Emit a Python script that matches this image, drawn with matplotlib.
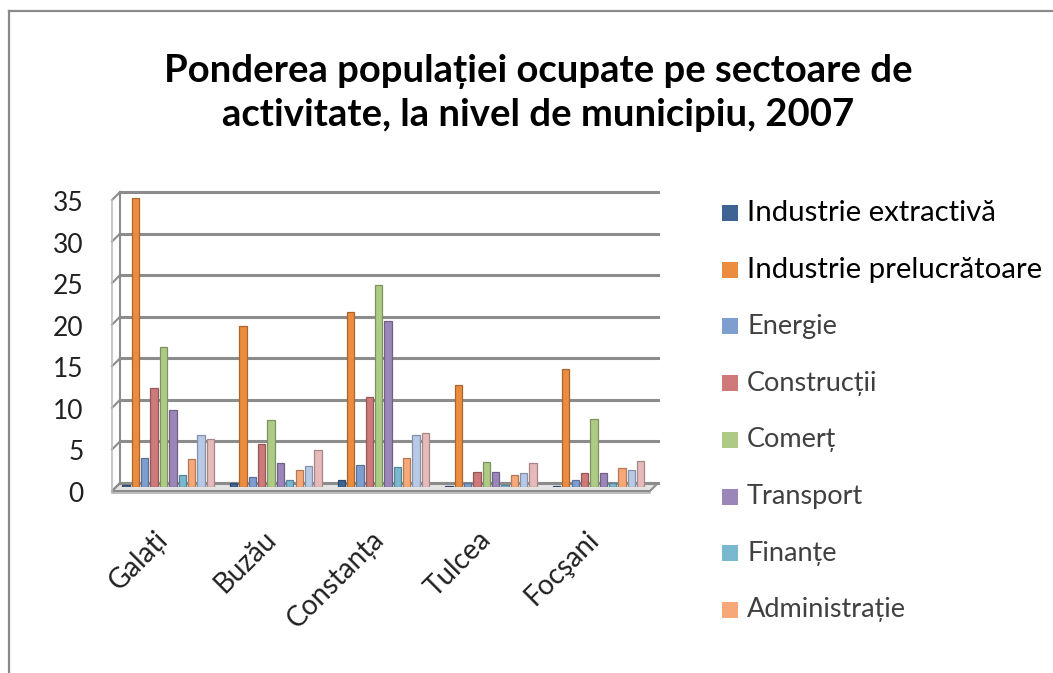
import matplotlib
matplotlib.use('Agg')
import matplotlib.pyplot as plt
from matplotlib.patches import Rectangle, Polygon
from matplotlib.lines import Line2D
import matplotlib.colors as mcolors
import numpy as np

plt.rcParams['font.family'] = ['Lato', 'DejaVu Sans']

# --- data ---
cities = ['Galați', 'Buzău', 'Constanța', 'Tulcea', 'Focşani']
sectors = ['Industrie extractivă', 'Industrie prelucrătoare', 'Energie',
           'Construcții', 'Comerț', 'Transport', 'Finanțe', 'Administrație',
           'Învățământ', 'Sănătate']
extractiva = [0.2, 0.5, 0.8, 0.1, 0.1]
prelucratoare = [34.8, 19.4, 21.1, 12.3, 14.2]
energie = [3.5, 1.2, 2.6, 0.5, 0.9]
constructii = [11.9, 5.2, 10.8, 1.8, 1.7]
comert = [16.8, 8.0, 24.3, 3.0, 8.2]
transport = [9.3, 2.9, 20.0, 1.8, 1.7]
finante = [1.4, 0.8, 2.4, 0.3, 0.5]
administratie = [3.4, 2.0, 3.5, 1.5, 2.3]
invatamant = [6.2, 2.5, 6.2, 1.7, 2.1]
sanatate = [5.8, 4.4, 6.5, 2.9, 3.1]
series = [extractiva, prelucratoare, energie, constructii, comert,
          transport, finante, administratie, invatamant, sanatate]
colors = ['#3E6496', '#EB8C3F', '#7E9ED0', '#CE7A7A', '#ADCB85',
          '#9B86BA', '#79B8CF', '#F7A879', '#B8C9E6', '#E6BABA']
yticks = [0, 5, 10, 15, 20, 25, 30, 35]

W, H = 1053, 673
fig = plt.figure(figsize=(W / 100, H / 100), dpi=100)

# outer chart border (cut at bottom and right)
fig.add_artist(Line2D([9 / W, 9 / W], [0, 1 - 11 / H], color='#8a8a8a', lw=1.6))
fig.add_artist(Line2D([9 / W, 1], [1 - 11 / H, 1 - 11 / H], color='#8a8a8a', lw=1.6))

fig.text(538 / W, 1 - 93 / H,
         'Ponderea populației ocupate pe sectoare de\nactivitate, la nivel de municipiu, 2007',
         ha='center', va='center', fontsize=27.5, fontweight='bold',
         linespacing=1.3, color='black')

ax = fig.add_axes([116 / W, 1 - 487 / H, 538 / W, 291 / H])
ax.set_xlim(-0.5, 4.5)
ax.set_ylim(0, 35)
for s in ax.spines.values():
    s.set_visible(False)
ax.set_yticks(yticks)
ax.tick_params(axis='y', length=0, labelleft=False)

# value labels sit on the front plane, a few pixels below the bar plane
yl_ax = fig.add_axes([116 / W, 1 - 492 / H, 0.0001, 291 / H])
yl_ax.set_ylim(0, 35)
yl_ax.set_xticks([])
yl_ax.set_yticks(yticks)
yl_ax.tick_params(axis='y', length=0, pad=23.5, labelsize=19, labelcolor='#202020')
for s in yl_ax.spines.values():
    s.set_visible(False)
yl_ax.patch.set_visible(False)

# 3D look: pixel offsets in data units
ddx = 4 / 107.6
ddy = 4 / (291 / 35)
grid_c = '#8c8c8c'
x0, x1 = -0.5, 4.5
floor = Polygon([(x0 - ddx, -ddy), (x1 - ddx, -ddy), (x1 + ddx, ddy), (x0 + ddx, ddy)],
                closed=True, facecolor='#e4e4e4', edgecolor=grid_c, lw=1.5,
                clip_on=False, zorder=1)
ax.add_patch(floor)
ax.plot([x0 - ddx, x1 - ddx], [-ddy - 0.25, -ddy - 0.25], color='#b0b0b0', lw=1.2,
        clip_on=False, zorder=1)
for v in yticks:
    ax.plot([x0 + ddx, x1 + ddx], [v + ddy, v + ddy], color=grid_c, lw=2.2,
            clip_on=False, zorder=1)
    ax.plot([x0 - ddx, x0 + ddx], [v - ddy, v + ddy], color=grid_c, lw=1.5,
            clip_on=False, zorder=1)
ax.plot([x0 + ddx, x0 + ddx], [ddy, 35 + ddy], color=grid_c, lw=1.5, clip_on=False, zorder=1)
ax.plot([x0 - ddx, x0 - ddx], [-ddy, 35 - ddy], color='#bdbdbd', lw=1.2, clip_on=False, zorder=1)

# bars
x = np.arange(len(cities))
slot = 0.087
bw = 0.068
for i, (vals, c) in enumerate(zip(series, colors)):
    edge = tuple(e * 0.72 for e in mcolors.to_rgb(c))
    ax.bar(x + (i - 4.5) * slot - 0.015, vals, width=bw, color=c, edgecolor=edge,
           linewidth=0.9, zorder=3, label=sectors[i])

ax.set_xticks(x)
ax.set_xticklabels(cities, rotation=45, ha='right', va='baseline',
                   rotation_mode='anchor', fontsize=20, color='#202020')
ax.tick_params(axis='x', length=0, pad=39)

# legend (only the first eight entries fit in the chart area)
for i in range(8):
    yc = 213 + i * 56.7
    fig.add_artist(Rectangle((722 / W, 1 - (yc + 8) / H), 16 / W, 16 / H,
                             facecolor=colors[i], edgecolor='none'))
    big = i < 2
    fig.text(747 / W, 1 - yc / H, sectors[i], ha='left', va='center',
             fontsize=21.2 if big else 19.5, color='black' if big else '#404040')

fig.savefig('out.png', dpi=100)
